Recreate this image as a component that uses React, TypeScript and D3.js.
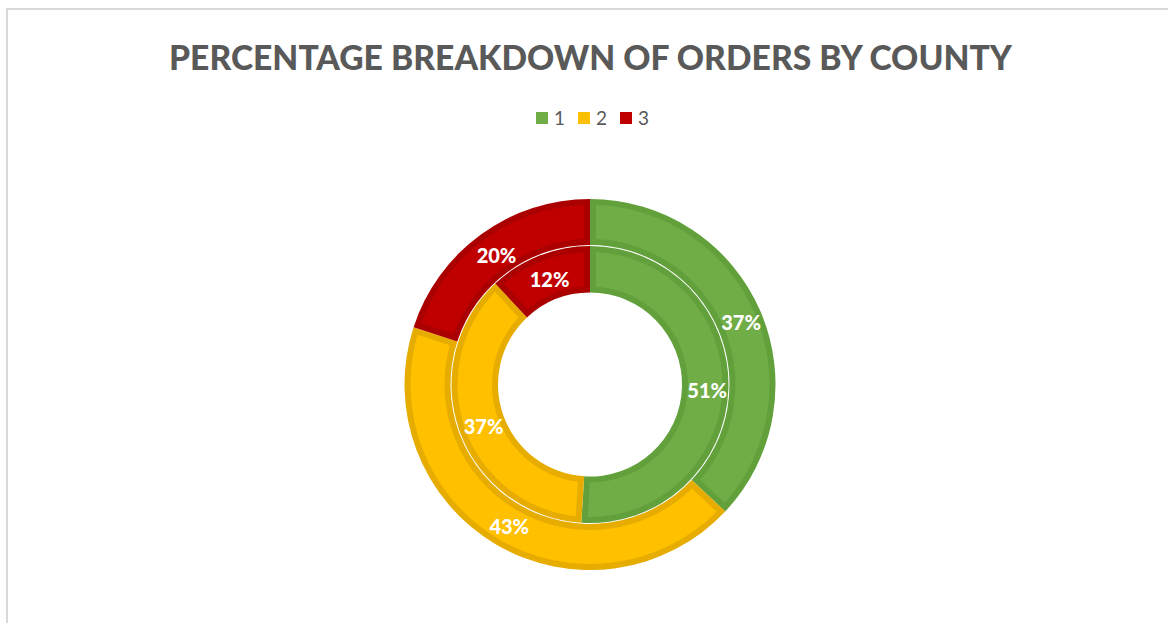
import React, { useRef, useEffect } from 'react';
import * as d3 from 'd3';

// chart values
const counties = ['1', '2', '3'];
const outerShare = [37, 43, 20];
const innerShare = [51, 37, 12];
const fillColors = ['#70AD47', '#FFC000', '#C00000'];
const edgeColors = ['#62A03C', '#E6AC00', '#AA0000'];

const WIDTH = 1168;
const HEIGHT = 623;

const App: React.FC = () => {
  const svgRef = useRef<SVGSVGElement>(null);

  useEffect(() => {
    if (!svgRef.current) return;
    const svg = d3.select(svgRef.current);
    svg.selectAll('*').remove();

    svg.append('rect').attr('width', WIDTH).attr('height', HEIGHT).attr('fill', '#ffffff');

    // chart frame (runs off the right and bottom)
    svg.append('path')
      .attr('d', `M7,${HEIGHT + 5} L7,9 L${WIDTH + 5},9`)
      .attr('fill', 'none')
      .attr('stroke', '#d9d9d9')
      .attr('stroke-width', 2);

    // title
    svg.append('text')
      .attr('x', 169)
      .attr('y', 70)
      .attr('textLength', 843)
      .attr('lengthAdjust', 'spacingAndGlyphs')
      .attr('font-family', 'Lato, "Open Sans", sans-serif')
      .attr('font-weight', 900)
      .attr('font-size', 35)
      .attr('fill', '#595959')
      .text('PERCENTAGE BREAKDOWN OF ORDERS BY COUNTY');

    // legend
    const legendX = d3.scalePoint<string>().domain(counties).range([536, 620]);
    const legend = svg.append('g');
    counties.forEach((c, i) => {
      const x = legendX(c) as number;
      legend.append('rect')
        .attr('x', x)
        .attr('y', 112)
        .attr('width', 12)
        .attr('height', 12)
        .attr('fill', fillColors[i]);
      legend.append('text')
        .attr('x', x + 18)
        .attr('y', 125)
        .attr('font-family', 'Lato, "Open Sans", sans-serif')
        .attr('font-size', 19)
        .attr('fill', '#595959')
        .text(c);
    });

    // donut rings
    const cx = 590;
    const cy = 384.5;
    const edge = 6;
    const pie = d3.pie<number>().sort(null).value(d => d);

    const rings = [
      { data: outerShare, r0: 139.5, r1: 185.5 },
      { data: innerShare, r0: 92, r1: 138.5 },
    ];

    const g = svg.append('g').attr('transform', `translate(${cx},${cy})`);

    rings.forEach(ring => {
      const slices = pie(ring.data);
      const full = d3.arc<d3.PieArcDatum<number>>()
        .innerRadius(ring.r0)
        .outerRadius(ring.r1);
      const inset = d3.arc<d3.PieArcDatum<number>>()
        .innerRadius(ring.r0 + edge)
        .outerRadius(ring.r1 - edge)
        .padRadius(100)
        .padAngle((2 * edge) / 100);
      const ringG = g.append('g');
      slices.forEach((s, i) => {
        ringG.append('path').attr('d', full(s) as string).attr('fill', edgeColors[i]);
        ringG.append('path').attr('d', inset(s) as string).attr('fill', fillColors[i]);
      });
      slices.forEach(s => {
        const [lx, ly] = full.centroid(s);
        ringG.append('text')
          .attr('x', lx + 2)
          .attr('y', ly + 2)
          .attr('text-anchor', 'middle')
          .attr('dominant-baseline', 'central')
          .attr('font-family', 'Lato, "Open Sans", sans-serif')
          .attr('font-weight', 900)
          .attr('font-size', 20)
          .attr('fill', '#ffffff')
          .text(`${s.data}%`);
      });
    });
  }, []);

  return (
    <div style={{ position: 'absolute', left: 0, top: 0 }}>
      <svg ref={svgRef} width={WIDTH} height={HEIGHT} style={{ display: 'block' }} />
    </div>
  );
};

export default App;
